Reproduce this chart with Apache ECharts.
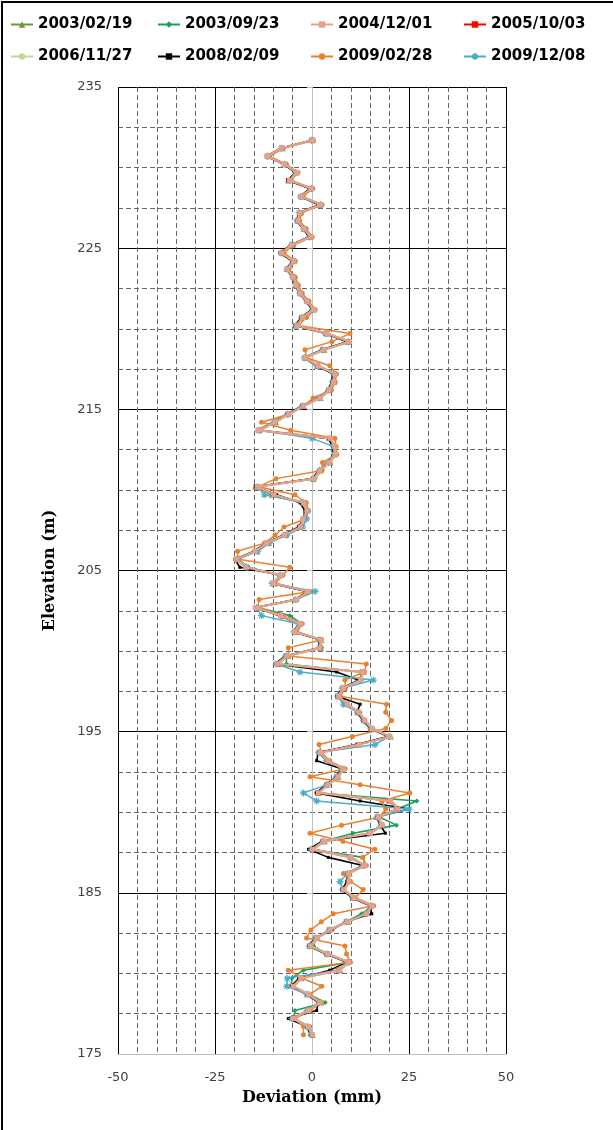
<!DOCTYPE html>
<html><head><meta charset="utf-8">
<script src="https://cdn.jsdelivr.net/npm/echarts@6/dist/echarts.min.js"></script>
<style>html,body{margin:0;padding:0;background:#fff}#c{width:613px;height:1130px}</style>
</head><body><div id="c"></div>
<script>
const seriesNames = ['2003/02/19','2003/09/23','2004/12/01','2005/10/03','2006/11/27','2008/02/09','2009/02/28','2009/12/08'];
const xTicks = [-50,-25,0,25,50];
const yTicks = [175,185,195,205,215,225,235];
const elevation = [
231.7,231.2,230.7,230.2,229.7,229.2,228.7,228.2,227.7,227.2,
226.7,226.2,225.7,225.2,224.7,224.2,223.7,223.2,222.7,222.2,
221.7,221.2,220.7,220.2,219.7,219.2,218.7,218.2,217.7,217.2,
216.7,216.2,215.7,215.2,214.7,214.2,213.7,213.2,212.7,212.2,
211.7,211.2,210.7,210.2,209.7,209.2,208.7,208.2,207.7,207.2,
206.7,206.2,205.7,205.2,204.7,204.2,203.7,203.2,202.7,202.2,
201.7,201.2,200.7,200.2,199.7,199.2,198.7,198.2,197.7,197.2,
196.7,196.2,195.7,195.2,194.7,194.2,193.7,193.2,192.7,192.2,
191.7,191.2,190.7,190.2,189.7,189.2,188.7,188.2,187.7,187.2,
186.7,186.2,185.7,185.2,184.7,184.2,183.7,183.2,182.7,182.2,
181.7,181.2,180.7,180.2,179.7,179.2,178.7,178.2,177.7,177.2,
176.7,176.2];
const dev_20030219 = [
0.2,-7.6,-11.2,-7.2,-4.0,-6.0,-0.5,-2.6,2.0,-3.0,
-3.5,-2.2,-0.4,-5.0,-7.6,-4.6,-6.5,-4.6,-4.2,-2.8,
-1.0,0.5,-2.7,-4.2,4.0,9.2,3.2,-1.6,1.3,5.6,
5.7,4.3,2.2,-2.1,-6.3,-9.3,-13.5,4.4,5.9,5.7,
4.7,1.9,0.3,-14.6,-10.3,-1.8,-1.6,-2.0,-3.3,-6.8,
-11.3,-14.2,-19.2,-16.6,-8.3,-9.7,-1.2,-4.3,-14.2,-7.6,
-3.3,-4.2,2.5,2.3,-6.2,-8.6,13.3,12.1,8.3,6.6,
9.3,11.7,13.7,15.1,20.3,12.2,2.2,4.3,7.7,6.8,
3.7,1.7,20.5,22.4,16.7,18.4,14.6,3.3,0.3,10.4,
13.2,9.7,9.1,8.4,10.4,15.1,13.6,9.3,4.3,1.5,
-0.2,4.3,9.1,7.3,-2.7,-4.6,-1.3,2.4,-0.6,-4.6,-0.8,0.2];
const dev_20030923 = [
-0.2,-8.0,-11.0,-6.8,-4.3,-5.6,-0.1,-3.0,1.8,-3.4,
-3.9,-1.8,-0.8,-5.4,-7.5,-5.0,-6.1,-5.0,-3.8,-3.2,
-1.4,0.1,-2.3,-4.3,3.6,9.0,2.6,-2.0,1.2,6.0,
5.3,4.7,1.8,-2.5,-5.9,-9.8,-13.2,4.9,5.5,6.1,
4.3,2.3,0.8,-14.3,-10.5,-1.7,-1.2,-2.5,-2.8,-7.3,
-11.8,-14.8,-19.0,-16.4,-8.5,-9.5,-0.8,-4.4,-14.0,-5.7,
-2.7,-4.7,2.1,2.5,-6.6,-6.6,12.6,12.8,7.8,7.1,
8.7,12.4,13.2,15.7,19.6,11.9,1.7,3.7,8.3,6.3,
4.3,1.2,27.0,22.0,17.3,21.8,10.6,3.0,-0.2,13.2,
13.7,9.2,9.4,7.8,11.0,15.7,12.8,8.7,4.9,0.9,
0.4,3.7,9.7,-2.2,-5.2,-5.3,-0.7,3.4,-4.4,-4.8,-0.5,-0.5];
const dev_20041201 = [
0.1,-7.9,-11.6,-7.1,-3.9,-5.8,-0.2,-2.9,2.3,-3.2,
-3.6,-2.1,-0.3,-5.3,-7.9,-4.7,-6.4,-4.9,-4.1,-3.1,
-1.3,0.4,-2.4,-3.9,3.9,9.7,3.1,-1.9,1.6,5.9,
5.6,4.4,2.1,-2.2,-6.0,-9.6,-13.9,4.7,5.8,6.0,
4.4,2.0,0.6,-14.1,-9.8,-2.1,-1.3,-2.3,-3.0,-7.1,
-11.6,-14.6,-19.6,-17.1,-7.9,-10.1,-0.9,-3.9,-14.6,-8.1,
-2.9,-4.5,2.4,2.0,-6.4,-9.1,13.1,12.5,8.0,6.9,
9.1,12.1,13.6,15.5,20.1,12.1,2.1,4.1,8.1,6.7,
4.1,1.6,20.2,22.1,17.1,18.1,15.1,3.1,0.1,10.1,
13.6,9.5,9.5,8.2,10.8,15.5,14.1,9.1,4.7,1.3,
-0.4,4.1,9.5,7.1,-2.9,-4.9,-0.9,2.1,-0.9,-4.9,-0.9,0.1];
const dev_20051003 = [
0.0,-7.7,-11.5,-6.9,-4.2,-6.1,-0.4,-2.7,2.2,-3.0,
-3.8,-1.9,-0.6,-5.1,-7.7,-4.9,-6.2,-4.7,-3.9,-2.9,
-1.1,0.2,-2.6,-4.1,3.7,9.6,2.9,-1.7,1.4,5.7,
5.4,4.6,1.9,-2.4,-6.2,-9.4,-13.7,4.5,5.6,5.8,
4.6,2.2,0.4,-14.4,-10.1,-1.9,-1.5,-2.1,-3.2,-6.9,
-11.4,-14.4,-19.4,-16.9,-8.1,-9.9,-1.1,-4.1,-14.4,-7.9,
-3.1,-4.3,2.2,2.2,-6.6,-8.9,12.9,12.3,8.2,6.7,
8.9,11.9,13.4,15.3,19.9,11.9,1.9,3.9,7.9,6.5,
3.9,1.4,19.9,21.9,16.9,17.9,14.9,2.9,-0.1,9.9,
13.4,9.3,9.3,8.0,10.6,15.3,13.9,8.9,4.5,1.1,
-0.6,3.9,9.3,6.9,-3.1,-5.1,-1.1,1.9,-1.1,-5.1,-1.1,-0.1];
const dev_20061127 = [
0.3,-7.5,-11.3,-6.9,-4.0,-5.7,-0.2,-2.7,2.4,-2.9,
-3.5,-1.9,-0.4,-5.0,-7.6,-4.6,-6.1,-4.6,-3.8,-2.8,
-1.0,0.5,-2.3,-3.8,4.1,9.8,3.3,-1.5,1.8,6.1,
5.8,4.8,2.3,-2.0,-5.8,-9.2,-13.4,4.9,6.0,6.2,
4.8,2.4,0.8,-13.9,-9.7,-1.7,-1.1,-1.9,-2.8,-6.7,
-11.2,-14.2,-19.2,-16.7,-7.7,-9.7,-0.7,-3.7,-14.2,-7.7,
-2.7,-4.1,2.6,2.4,-6.2,-8.7,13.3,12.7,8.4,7.1,
9.3,12.3,13.8,15.7,20.3,12.3,2.3,4.3,8.3,6.9,
4.3,1.8,20.3,22.3,17.3,18.3,15.3,3.3,0.3,10.3,
13.8,9.7,9.7,8.4,11.0,15.7,14.3,9.3,4.9,1.5,
-0.2,4.3,9.7,7.3,-2.7,-4.7,-0.7,2.3,-0.7,-4.7,-0.7,0.3];
const dev_20080209 = [
0.0,-8.1,-11.7,-7.3,-4.4,-6.2,-0.6,-3.1,1.8,-3.4,
-4.0,-2.3,-0.8,-5.5,-8.3,-5.1,-6.6,-5.1,-4.3,-3.3,
-1.5,0.0,-2.8,-4.4,3.4,9.1,2.6,-2.1,1.2,5.4,
5.1,4.1,1.6,-2.7,-6.5,-10.0,-14.1,4.2,5.3,5.5,
4.1,1.7,0.1,-14.6,-9.1,-3.1,-1.8,-2.2,-3.5,-7.4,
-11.9,-14.9,-19.9,-18.6,-7.8,-10.4,-1.4,-3.9,-14.7,-8.4,
-3.4,-4.8,1.9,1.7,-6.9,-9.5,6.4,11.9,7.7,6.4,
12.4,11.6,13.1,15.0,19.6,11.6,1.6,1.2,7.6,6.2,
3.6,1.1,12.4,25.0,16.6,17.6,18.9,2.6,-0.9,4.2,
13.1,9.0,9.0,7.7,10.3,15.0,15.4,8.6,5.2,0.8,
-0.9,3.6,9.0,4.6,-3.4,-5.4,-1.4,1.6,1.2,-6.1,-1.4,-0.4];
const dev_20090228 = [
0.4,-7.4,-11.0,-6.6,-3.6,-5.4,0.2,-2.3,2.6,-2.6,
-3.2,-1.5,0.0,-4.7,-7.2,-4.3,-5.9,-4.3,-3.5,-2.5,
-0.8,0.8,-1.4,-3.6,9.8,5.1,-1.8,-1.4,4.6,6.3,
6.0,5.0,0.3,-2.2,-6.0,-13.0,-5.5,5.9,6.2,6.4,
2.7,2.6,-9.3,-13.8,-4.4,-1.5,-0.9,-1.7,-7.2,-9.5,
-12.2,-19.2,-19.0,-5.7,-7.5,-9.5,-0.5,-13.6,-14.0,-7.5,
-2.5,-3.9,2.5,-6.1,-6.0,14.0,13.5,8.5,8.6,7.3,
19.2,19.0,20.5,19.0,10.4,1.8,2.5,4.5,8.5,-0.5,
12.4,25.2,18.0,19.0,17.5,7.6,-0.5,8.0,16.2,13.0,
14.0,8.1,9.9,13.2,11.2,15.9,5.5,2.4,-0.3,-1.4,
8.5,8.9,9.9,-6.1,-2.5,2.5,-0.5,2.5,-0.5,-4.5,-2.2,-2.2];
const dev_20091208 = [
-0.1,-7.9,-11.5,-7.0,-4.3,-5.8,-0.1,-2.9,2.2,-3.3,
-3.8,-2.1,-0.6,-5.3,-7.9,-4.9,-6.4,-4.9,-4.1,-3.1,
-1.3,0.2,-2.6,-4.1,3.5,9.4,2.7,-2.0,1.3,5.6,
5.3,4.3,1.8,-2.5,-6.3,-9.7,-13.6,0.0,5.5,5.7,
4.3,1.9,0.3,-14.0,-12.3,-2.2,-1.2,-1.4,-2.4,-6.5,
-11.0,-14.0,-19.4,-16.8,-8.2,-10.3,0.8,-4.2,-14.3,-13.0,
-3.5,-4.6,2.0,1.9,-6.7,-9.2,-3.1,15.8,7.8,6.6,
8.1,11.8,13.3,15.2,19.8,16.2,1.8,3.8,7.8,6.4,
3.8,-2.2,1.2,25.0,16.8,17.8,14.8,2.8,-0.2,9.8,
13.3,9.2,7.2,7.9,10.5,15.2,13.8,8.8,4.4,1.0,
-0.7,3.8,9.2,6.8,-6.4,-6.5,-1.2,1.8,-1.2,-5.2,-1.2,-0.2];

const allDev = [dev_20030219,dev_20030923,dev_20041201,dev_20051003,dev_20061127,dev_20080209,dev_20090228,dev_20091208];
const colors = ['#77933C','#1A9F5C','#E9A08A','#FF0000','#C3D69B','#000000','#E8822E','#4BACC6'];
const asterisk = 'path://M0,5L10,5M5,0L5,10M1.5,1.5L8.5,8.5M8.5,1.5L1.5,8.5';
const symbols = ['triangle','diamond','rect','rect','none','rect','circle',asterisk];
const symSizes = [6,5,5,5,0,3,5,7];
const widths = [1.6,1.6,2.2,1.6,1.8,1.6,1.5,1.5];
const zs = [3,4,9,2,5,6,7,8];

const chart = echarts.init(document.getElementById('c'));
const series = seriesNames.map((name,i)=>({
  name, type:'line',
  data: allDev[i].map((v,k)=>[v, elevation[k]]),
  symbol: symbols[i], symbolSize: symSizes[i], showSymbol: symbols[i] !== 'none',
  lineStyle:{color:colors[i], width:widths[i]},
  itemStyle:{color: i===7 ? 'rgba(0,0,0,0)' : colors[i], borderColor: colors[i], borderWidth: i===7 ? 1.2 : 0},
  animation:false, z: zs[i]
}));
const legendText = {fontFamily:'DejaVu Sans', fontWeight:'bold', fontSize:15, color:'#000'};
const legendLefts = [10,157,310,463];
const legends = seriesNames.map((nm,i)=>({
  data:[nm], top: i<4 ? 17 : 49, left: legendLefts[i%4],
  itemWidth:22, itemHeight:8, itemGap:0, padding:0, textStyle:legendText
}));
chart.setOption({
  animation:false,
  backgroundColor:'#fff',
  graphic:[{type:'rect', shape:{x:2,y:2,width:660,height:1180}, style:{fill:'none', stroke:'#000', lineWidth:2}, silent:true}],
  legend: legends,
  grid:{left:118, top:87, width:388, height:967, containLabel:false},
  xAxis:{
    type:'value', min:xTicks[0], max:xTicks[xTicks.length-1], interval:25,
    name:'Deviation (mm)', nameLocation:'middle', nameGap:36,
    nameTextStyle:{fontFamily:'DejaVu Serif', fontWeight:'bold', fontSize:16, color:'#000'},
    axisLine:{show:true, lineStyle:{color:'#bfbfbf', width:1}},
    axisTick:{show:false},
    axisLabel:{margin:17, fontFamily:'DejaVu Sans', fontSize:13, color:'#404040'},
    splitLine:{show:true, lineStyle:{color:'#000', width:1}},
    minorTick:{show:false, splitNumber:5},
    minorSplitLine:{show:true, lineStyle:{color:'#666', width:1, type:[5,3]}}
  },
  yAxis:{
    type:'value', min:yTicks[0], max:yTicks[yTicks.length-1], interval:10,
    name:'Elevation (m)', nameLocation:'middle', nameGap:60, nameRotate:90,
    nameTextStyle:{fontFamily:'DejaVu Serif', fontWeight:'bold', fontSize:16, color:'#000'},
    axisLine:{show:true, lineStyle:{color:'#bfbfbf', width:1}},
    axisTick:{show:true, length:5, lineStyle:{color:'#bfbfbf'}},
    axisLabel:{margin:16, fontFamily:'DejaVu Sans', fontSize:13, color:'#404040'},
    splitLine:{show:true, lineStyle:{color:'#000', width:1}},
    minorTick:{show:false, splitNumber:4},
    minorSplitLine:{show:true, lineStyle:{color:'#666', width:1, type:[5,3]}}
  },
  series
});
</script></body></html>
